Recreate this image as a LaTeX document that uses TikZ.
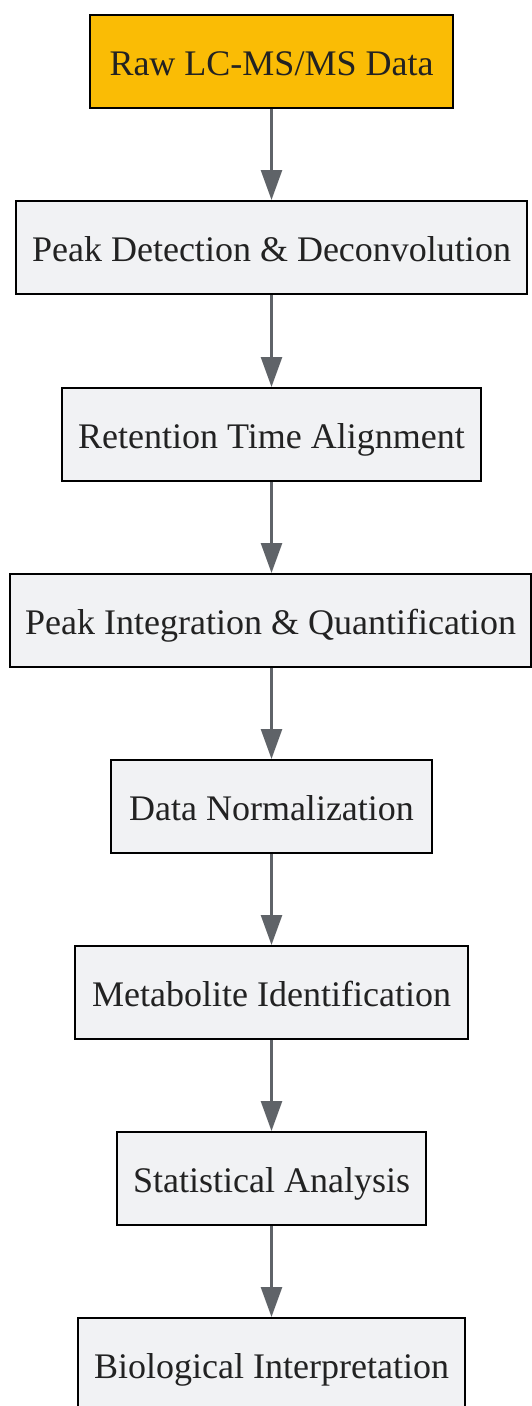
\documentclass[tikz,border=0pt]{standalone}
\usepackage{fontspec}
\setmainfont{Liberation Serif}
\usetikzlibrary{arrows.meta}
\definecolor{boxfill}{HTML}{F1F2F4}
\definecolor{startfill}{HTML}{FABC05}
\definecolor{arrowgray}{HTML}{5F6368}
\definecolor{txt}{HTML}{222222}
\tikzset{
  stepbox/.style={draw=black, line width=2pt, fill=boxfill, minimum height=93pt,
    inner sep=0pt, text height=27pt, text depth=0pt, text=txt, font=\fontsize{36}{42}\selectfont},
  startbox/.style={stepbox, fill=startfill},
  flow/.style={draw=arrowgray, line width=2.6pt, -{Triangle[length=30pt,width=21pt]}}
}
\begin{document}
\begin{tikzpicture}[x=1pt,y=-1pt]
\useasboundingbox (0,0) rectangle (532,1406);
\node[startbox, minimum width=363pt] (n1) at (271.5,61.5) {Raw LC-MS/MS Data};
\node[stepbox, minimum width=511pt] (n2) at (271.5,247.5) {Peak Detection \& Deconvolution};
\node[stepbox, minimum width=419pt] (n3) at (271.5,434.5) {Retention Time Alignment};
\node[stepbox, minimum width=521pt] (n4) at (270.5,620.5) {Peak Integration \& Quantification};
\node[stepbox, minimum width=321pt] (n5) at (271.5,806.5) {Data Normalization};
\node[stepbox, minimum width=393pt] (n6) at (271.5,992.5) {Metabolite Identification};
\node[stepbox, minimum width=309pt] (n7) at (271.5,1178.5) {Statistical Analysis};
\node[stepbox, minimum width=387pt] (n8) at (271.5,1364.5) {Biological Interpretation};
\draw[flow] (n1.south) -- (n2.north);
\draw[flow] (n2.south) -- (n3.north);
\draw[flow] (n3.south) -- (n3.south |- n4.north);
\draw[flow] (n3.south |- n4.south) -- (n5.north);
\draw[flow] (n5.south) -- (n6.north);
\draw[flow] (n6.south) -- (n7.north);
\draw[flow] (n7.south) -- (n8.north);
\end{tikzpicture}
\end{document}
